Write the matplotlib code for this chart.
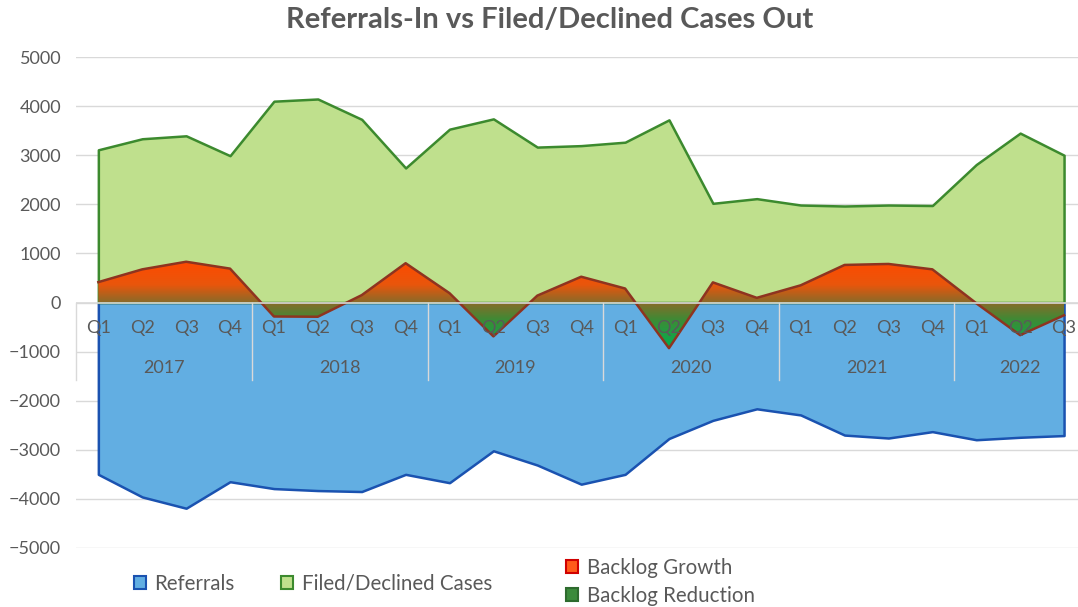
import numpy as np
import matplotlib
matplotlib.use('Agg')
import matplotlib.pyplot as plt
from matplotlib.colors import LinearSegmentedColormap, Normalize
from matplotlib.patches import Patch

plt.rcParams['font.family'] = ['Lato', 'DejaVu Sans']

quarters = ['Q1', 'Q2', 'Q3', 'Q4'] * 5 + ['Q1', 'Q2', 'Q3']
years = ['2017', '2018', '2019', '2020', '2021', '2022']
referrals = [-3500, -3960, -4190, -3650, -3790, -3830, -3850, -3500, -3670, -3020, -3310, -3700,
             -3500, -2770, -2400, -2165, -2290, -2700, -2760, -2630, -2795, -2745, -2710]
filed = [3110, 3335, 3395, 2990, 4100, 4145, 3730, 2740, 3530, 3740, 3165, 3195,
         3265, 3720, 2020, 2115, 1985, 1965, 1985, 1975, 2810, 3450, 3000]
backlog = [415, 675, 830, 690, -285, -290, 150, 800, 190, -690, 140, 525,
           285, -930, 410, 95, 350, 765, 785, 675, -15, -665, -260]

grey = '#595959'
x = np.arange(len(quarters))

fig = plt.figure(figsize=(10.78, 6.07), dpi=100)
ax = fig.add_axes([76.4 / 1078, 1 - 548 / 607, (1086 - 76.4) / 1078, (548 - 57) / 607])

ax.fill_between(x, referrals, 0, facecolor='#62AEE2', edgecolor='#1A52B0', lw=1.8, zorder=2)
ax.fill_between(x, filed, 0, facecolor='#BFE08D', edgecolor='#3C8A2E', lw=1.8, zorder=2.1)

# backlog area with vertical gradient (green below zero, orange-red above)
lo, hi = min(backlog), max(backlog)
stops = [(-930, '#00B050'), (-350, '#3F8A35'), (0, '#8B6A28'), (350, '#E8560C'), (830, '#FF4A00')]
cmap = LinearSegmentedColormap.from_list(
    'backlog', [((v - lo) / (hi - lo), c) for v, c in stops])
grad = np.linspace(lo, hi, 256).reshape(-1, 1)
im = ax.imshow(grad, extent=[-0.5, 22.5, lo, hi], origin='lower', aspect='auto',
               cmap=cmap, norm=Normalize(lo, hi), zorder=3)
poly = ax.fill_between(x, backlog, 0, facecolor='none', edgecolor='none', zorder=3)
im.set_clip_path(poly.get_paths()[0], transform=ax.transData)
ax.plot(x, backlog, color='#8E3420', lw=1.8, zorder=3.2)

ax.set_xlim(-0.5, 22.5)
ax.set_ylim(-5000, 5000)
ax.set_yticks(np.arange(-5000, 5001, 1000))
ax.set_xticks([])
ax.yaxis.grid(True, color='#D9D9D9', lw=1)
ax.set_axisbelow(True)
ax.tick_params(axis='y', length=0, pad=11, labelsize=13, labelcolor=grey)
for s in ax.spines.values():
    s.set_visible(False)

# category axis at zero
ax.axhline(0, color='#D9D9D9', lw=1.2, zorder=4)
for sx in [-0.5, 3.5, 7.5, 11.5, 15.5, 19.5, 22.5]:
    ax.plot([sx, sx], [0, -1570], color='#D9D9D9', lw=1, zorder=4, clip_on=False)
for i, q in enumerate(quarters):
    ax.text(i, -520, q, ha='center', va='center', fontsize=13, color=grey, zorder=5)
for k, yr in enumerate(years):
    cx = 4 * k + 1.5 if k < 5 else 21
    ax.text(cx, -1330, yr, ha='center', va='center', fontsize=13, color=grey, zorder=5)

fig.text(0.51, 1 - 20 / 607, 'Referrals-In vs Filed/Declined Cases Out', ha='center', va='center',
         fontsize=21, fontweight='bold', color=grey)

h1 = [Patch(facecolor='#62AEE2', edgecolor='#1A52B0', lw=1.5, label='Referrals'),
      Patch(facecolor='#BFE08D', edgecolor='#3C8A2E', lw=1.5, label='Filed/Declined Cases')]
fig.legend(handles=h1, loc='center left', bbox_to_anchor=(134 / 1078, 1 - 583.5 / 607), ncol=2,
           frameon=False, fontsize=14.8, labelcolor=grey, handlelength=0.6, handleheight=0.6,
           handletextpad=0.4, columnspacing=2.25, borderpad=0, borderaxespad=0)
h2 = [Patch(facecolor='#FF5A1A', edgecolor='#D00000', lw=1.5, label='Backlog Growth'),
      Patch(facecolor='#3C8B3C', edgecolor='#2E6B2E', lw=1.5, label='Backlog Reduction')]
fig.legend(handles=h2, loc='center left', bbox_to_anchor=(566 / 1078, 1 - 582 / 607), ncol=1,
           frameon=False, fontsize=14.8, labelcolor=grey, handlelength=0.6, handleheight=0.6,
           handletextpad=0.4, labelspacing=0.4, borderpad=0, borderaxespad=0)

fig.savefig('out.png', dpi=100)
